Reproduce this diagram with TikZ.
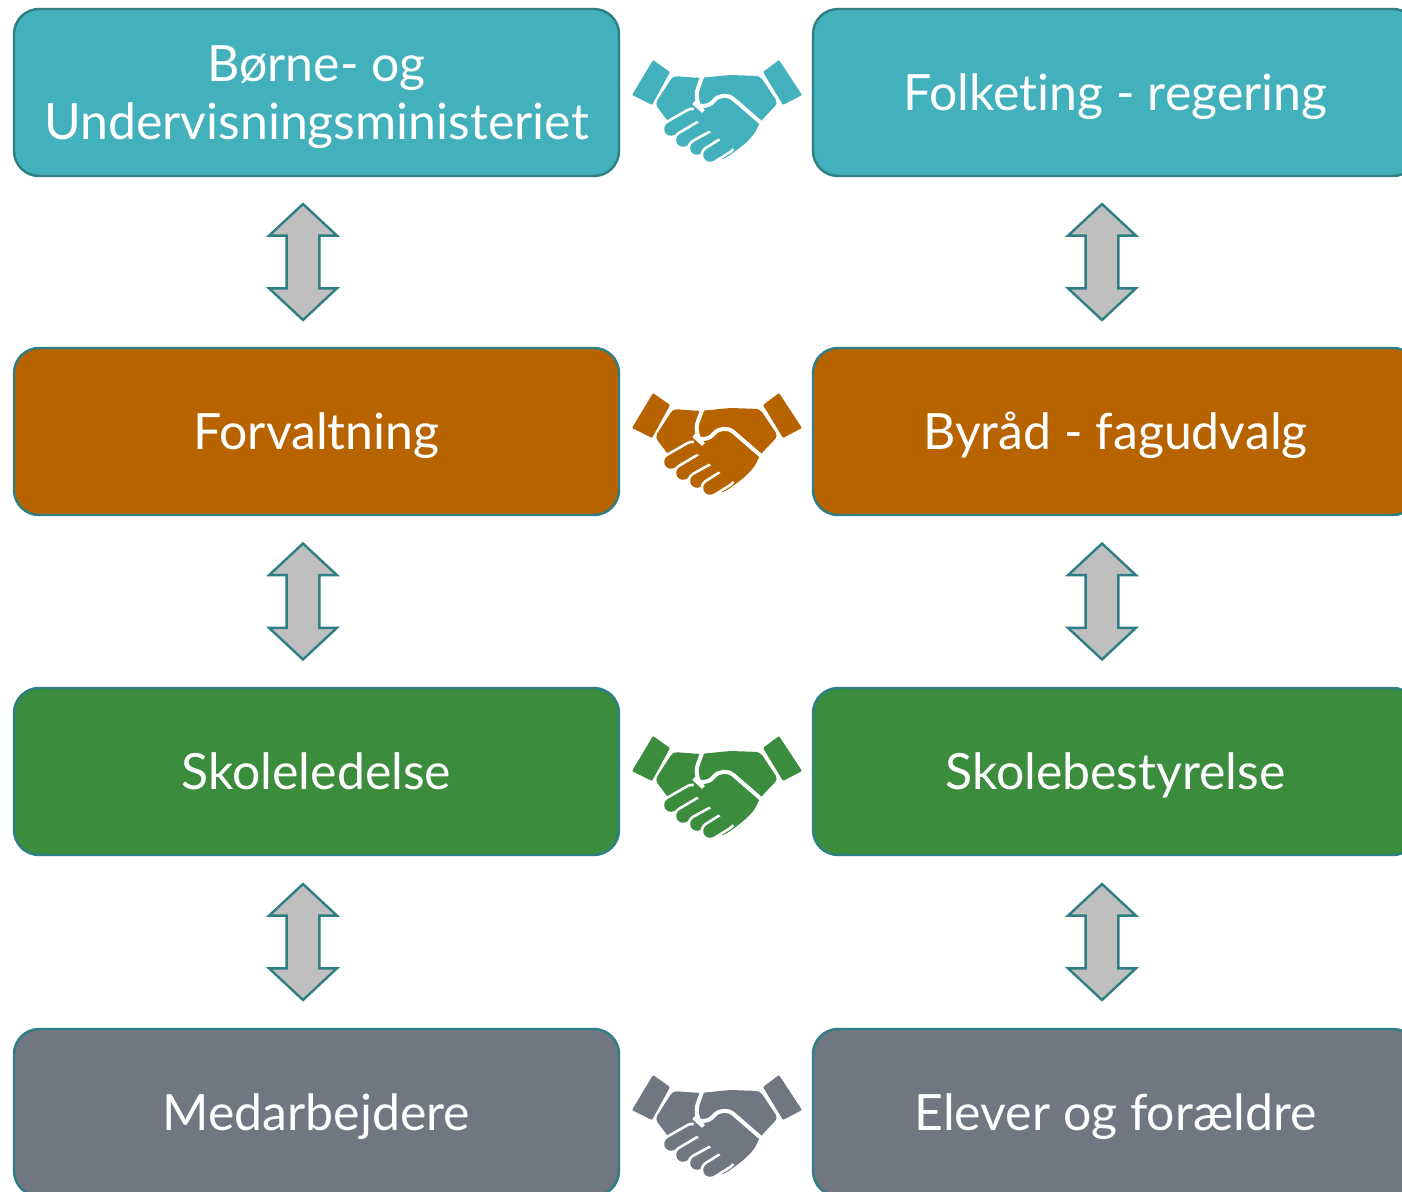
\documentclass[tikz,border=0pt]{standalone}
\usepackage{fontspec}
\setmainfont{Lato}[Ligatures=NoCommon]
\usetikzlibrary{shapes.arrows,calc}
\definecolor{tealbox}{HTML}{42B1BC}
\definecolor{orangebox}{HTML}{B76400}
\definecolor{greenbox}{HTML}{3B8C3C}
\definecolor{graybox}{HTML}{717782}
\definecolor{edgeteal}{HTML}{2E7E85}
\definecolor{arrowgray}{HTML}{BFBFBF}
\tikzset{
  pics/handshake/.style={code={
    % cuffs
    \fill[#1, rounded corners=0.5pt] (-63,-50) -- (-46,-38) -- (-64,-5) -- (-84,-15) -- cycle;
    \fill[#1, rounded corners=0.5pt] (63,-50) -- (86,-15) -- (67,-5) -- (47,-38) -- cycle;
    % hands
    \fill[#1, rounded corners=2pt] (-43,-34) -- (-16,-32) -- (14,-35) -- (44,-34) -- (62,-7) -- (44,12)
      -- (39,23) -- (31,32) -- (21,40) -- (10,48) -- (4,50) -- (-8,42) -- (-46,14) -- (-61,-6) -- cycle;
    \foreach \tx/\ty/\bx/\by in {-45/19/-24/7, -33/30/-11/17, -19/38/1/27, -6/45/10/35} {
      \draw[white, line width=9.5pt, line cap=round] (\tx,\ty) -- (\bx,\by);
      \draw[#1, line width=6.8pt, line cap=round] (\tx,\ty) -- (\bx,\by);
    }
    \fill[#1] (-24,7) -- (-11,17) -- (1,27) -- (10,35) -- (20,40) -- (44,12) -- (7,-20) -- (-20,-10) -- cycle;
    \draw[white, line width=2pt, line cap=round, rounded corners=7pt]
      (-14,-33) -- (-23,-8) -- (-12,2) -- (7,-20) -- (44,12);
  }},
  box/.style={draw=edgeteal, line width=1.2pt, rounded corners=12.5pt, minimum width=302.5pt,
    minimum height=83.5pt, text=white, align=center, font=\fontsize{25pt}{29pt}\selectfont,
    text height=18pt, text depth=0pt},
  updown/.style={double arrow, draw=edgeteal, fill=arrowgray, line width=1.2pt, inner sep=7.6pt,
    shape border rotate=90, minimum height=58pt,
    double arrow head extend=8.75pt, double arrow head indent=0pt, double arrow tip angle=94}
}
\begin{document}
\begin{tikzpicture}[x=0.5pt, y=-0.5pt]
\useasboundingbox (0,0) rectangle (1402,1192);
\clip (0,0) rectangle (1402,1192);
\node[box, fill=tealbox, text height=47pt] (bum) at (316.5,92.5) {Børne- og\\Undervisningsministeriet};
\node[box, fill=tealbox] (folk) at (1115.5,92.5) {Folketing - regering};
\node[box, fill=orangebox] (forv) at (316.5,431.5) {Forvaltning};
\node[box, fill=orangebox] (byraad) at (1115.5,431.5) {Byråd - fagudvalg};
\node[box, fill=greenbox] (skl) at (316.5,771.5) {Skoleledelse};
\node[box, fill=greenbox] (skb) at (1115.5,771.5) {Skolebestyrelse};
\node[box, fill=graybox] (med) at (316.5,1112.5) {Medarbejdere};
\node[box, fill=graybox] (elev) at (1115.5,1112.5) {Elever og forældre};
% arrows
\node[updown] (a1) at ($(bum.south)!0.5!(forv.north)+(-13.5,0)$) {};
\node[updown] (a2) at ($(forv.south)!0.5!(skl.north)+(-13.5,0)$) {};
\node[updown] (a3) at ($(skl.south)!0.5!(med.north)+(-13.5,0)$) {};
\node[updown] (b1) at ($(folk.south)!0.5!(byraad.north)+(-13.5,0)$) {};
\node[updown] (b2) at ($(byraad.south)!0.5!(skb.north)+(-13.5,0)$) {};
\node[updown] (b3) at ($(skb.south)!0.5!(elev.north)+(-13.5,0)$) {};
% handshakes
\pic at (716,110) {handshake=tealbox};
\pic at (716,443) {handshake=orangebox};
\pic at (716,786) {handshake=greenbox};
\pic at (716,1125) {handshake=graybox};
\end{tikzpicture}
\end{document}
